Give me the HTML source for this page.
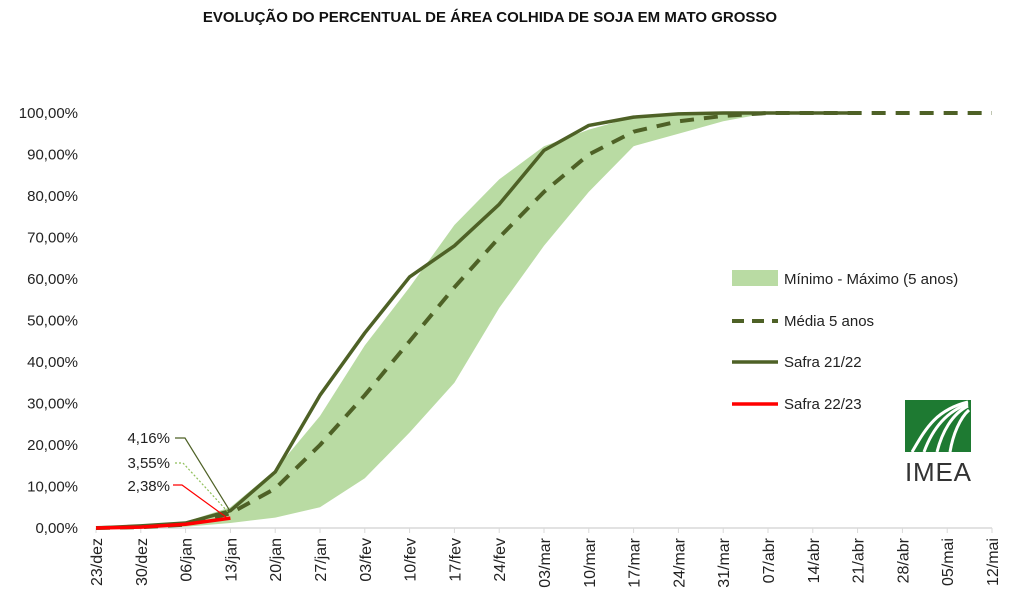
<!DOCTYPE html>
<html><head><meta charset="utf-8"><style>
body{margin:0;background:#fff;font-family:"Liberation Sans",sans-serif}
svg text{font-family:"Liberation Sans",sans-serif}
</style></head><body>
<svg width="1024" height="602" viewBox="0 0 1024 602" id="c">
<text x="490" y="22" text-anchor="middle" font-size="15" font-weight="bold" fill="#111">EVOLUÇÃO DO PERCENTUAL DE ÁREA COLHIDA DE SOJA EM MATO GROSSO</text>
<g id="yax"></g><g id="xax"></g><g id="plot"></g>
<g>
<rect x="732" y="270" width="46" height="16" fill="#b9dba3"/>
<text x="784" y="284" font-size="15" fill="#222">Mínimo - Máximo (5 anos)</text>
<line x1="732" y1="321" x2="778" y2="321" stroke="#4e6126" stroke-width="4" stroke-dasharray="12,8"/>
<text x="784" y="326" font-size="15" fill="#222">Média 5 anos</text>
<line x1="732" y1="362" x2="778" y2="362" stroke="#4e6126" stroke-width="3.5"/>
<text x="784" y="367" font-size="15" fill="#222">Safra 21/22</text>
<line x1="732" y1="404" x2="778" y2="404" stroke="#ff0000" stroke-width="3.5"/>
<text x="784" y="409" font-size="15" fill="#222">Safra 22/23</text>
</g>
<g>
<rect x="905" y="400" width="66" height="52" fill="#1e7a32"/>
<path d="M912 452 C925 430 935 410 968 402" stroke="#fff" stroke-width="3" fill="none"/>
<path d="M924 452 C932 430 945 412 968 404" stroke="#fff" stroke-width="3" fill="none"/>
<path d="M937 452 C942 432 952 414 968 406" stroke="#fff" stroke-width="3" fill="none"/>
<path d="M950 452 C953 434 960 418 969 410" stroke="#fff" stroke-width="3" fill="none"/>
<text x="938" y="481" text-anchor="middle" font-size="26" fill="#333" textLength="66">IMEA</text>
</g>
<g>
<text x="170" y="443" text-anchor="end" font-size="15" fill="#222">4,16%</text>
<polyline points="175,438 185,438 230,511" stroke="#4e6126" stroke-width="1.2" fill="none"/>
<text x="170" y="468" text-anchor="end" font-size="15" fill="#222">3,55%</text>
<polyline points="175,463 183,463 228,512" stroke="#8fbf5a" stroke-width="1.2" stroke-dasharray="2,2" fill="none"/>
<text x="170" y="491" text-anchor="end" font-size="15" fill="#222">2,38%</text>
<polyline points="173,485 182,485 226,517" stroke="#ff0000" stroke-width="1.2" fill="none"/>
</g>
</svg>
<script>
const categories=["23/dez","30/dez","06/jan","13/jan","20/jan","27/jan","03/fev","10/fev","17/fev","24/fev","03/mar","10/mar","17/mar","24/mar","31/mar","07/abr","14/abr","21/abr","28/abr","05/mai","12/mai"];
const yTicks=[0,10,20,30,40,50,60,70,80,90,100];
const yTickLabels=["0,00%","10,00%","20,00%","30,00%","40,00%","50,00%","60,00%","70,00%","80,00%","90,00%","100,00%"];
const minVals=[0,0,0.3,1.2,2.5,5,12,23,35,53,68,81,92,95,98,100,100,100];
const maxVals=[0,0.3,1.5,5,14,27,44,58,73,84,92,96,99,100,100,100,100,100];
const mediaVals=[0,0.2,0.8,3.55,9.5,20,32,45,58,70,81,90,95.5,98,99.3,100,100,100,100,100,100];
const safra2122=[0,0.5,1.2,4.16,13.5,32,47,60.5,68,78,91,97,99,99.8,100,100,100,100];
const safra2223=[0,0.2,0.9,2.38];
const NS="http://www.w3.org/2000/svg";
const x=i=>96+i*44.8, y=v=>528-v*4.15;
function mk(t,a,p){const e=document.createElementNS(NS,t);for(const k in a)e.setAttribute(k,a[k]);p.appendChild(e);return e;}
const yax=document.getElementById('yax'),xax=document.getElementById('xax'),plot=document.getElementById('plot');
yTicks.forEach((v,i)=>{const t=mk('text',{x:78,y:y(v)+5,'text-anchor':'end','font-size':15,fill:'#222'},yax);t.textContent=yTickLabels[i];

});
const ax=mk('line',{x1:96,y1:528,x2:992,y2:528,stroke:'#d9d9d9','stroke-width':1.5},xax);


categories.forEach((c,i)=>{mk('line',{x1:x(i),y1:528,x2:x(i),y2:533,stroke:'#d9d9d9'},xax);
const t=mk('text',{transform:`translate(${x(i)+6},538) rotate(-90)`,'text-anchor':'end','font-size':16,fill:'#222'},xax);t.textContent=c;

});
let d='M'+maxVals.map((v,i)=>x(i)+','+y(v)).join('L');
for(let i=minVals.length-1;i>=0;i--)d+='L'+x(i)+','+y(minVals[i]);
const band=mk('path',{d:d+'Z',fill:'#b9dba3'},plot);


const line=(arr,attrs,name)=>{const p=mk('polyline',Object.assign({points:arr.map((v,i)=>x(i)+','+y(v)).join(' '),fill:'none','stroke-linejoin':'round'},attrs),plot);

};
line(mediaVals,{stroke:'#4e6126','stroke-width':4,'stroke-dasharray':'14,10'},'media-5-anos-line');
line(safra2122,{stroke:'#4e6126','stroke-width':3.5},'safra-2122-line');
line(safra2223,{stroke:'#ff0000','stroke-width':3.5},'safra-2223-line');
</script>
</body></html>
